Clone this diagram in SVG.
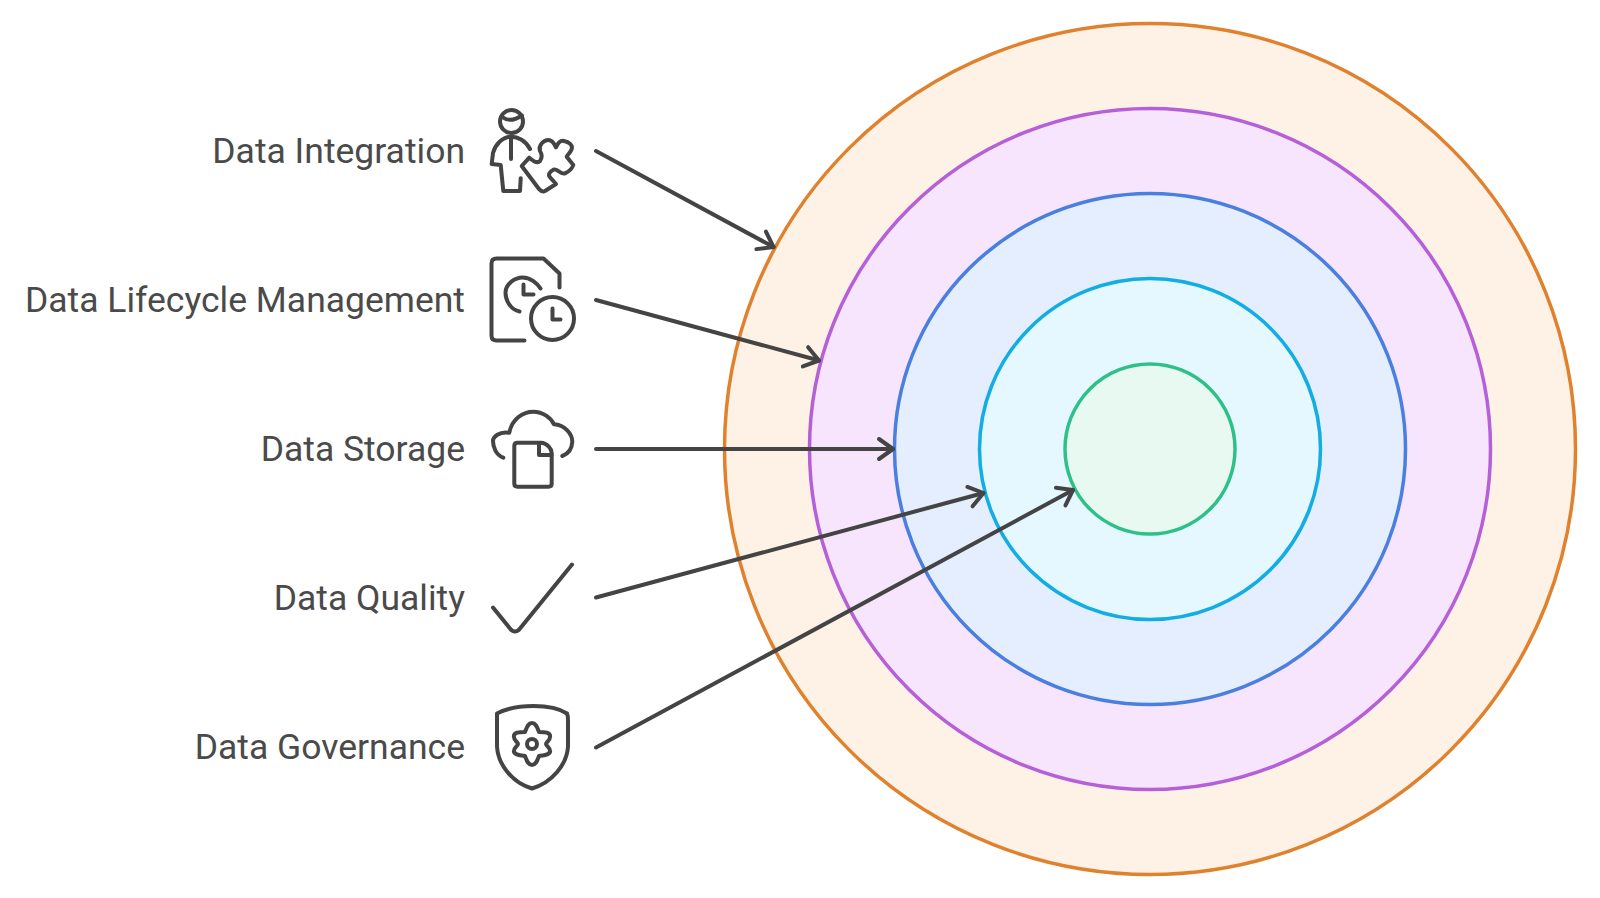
<svg xmlns="http://www.w3.org/2000/svg" width="1600" height="898" viewBox="0 0 1600 898">
<style>
.l{font-family:Roboto,"Liberation Sans",sans-serif;font-size:35.500px;fill:#4a4a4a;text-anchor:end}
.r{stroke-width:3.5}
.i{fill:none;stroke:#444;stroke-width:4;stroke-linecap:round;stroke-linejoin:round}
.c{fill:none;stroke:#444;stroke-width:4;stroke-linecap:round;stroke-linejoin:round}
</style>
<defs>
<marker id="a" markerUnits="userSpaceOnUse" markerWidth="30" markerHeight="30" refX="20" refY="15" orient="auto" overflow="visible">
<path d="M6 5L20 15L6 25" fill="none" stroke="#444" stroke-width="4" stroke-linecap="round" stroke-linejoin="round"/>
</marker>
</defs>
<rect width="1600" height="898" fill="#fff"/>
<g id="rings">
<circle id="ring-1" class="r" cx="1150" cy="449" r="425.500" fill="#fef1e6" stroke="#e0812e"/>
<circle id="ring-2" class="r" cx="1150" cy="449" r="340.500" fill="#f6e5fc" stroke="#b55fd8"/>
<circle id="ring-3" class="r" cx="1150" cy="449" r="255.500" fill="#e5eefe" stroke="#4a7fe0"/>
<circle id="ring-4" class="r" cx="1150" cy="449" r="170.500" fill="#e5f8ff" stroke="#12ade2"/>
<circle id="ring-5" class="r" cx="1150" cy="449" r="85" fill="#e8f9f1" stroke="#2fc08a"/>
</g>
<g id="connectors">
<path class="c" marker-end="url(#a)" d="M596 151L773.500 247"/>
<path class="c" marker-end="url(#a)" d="M596 300L819 360.500"/>
<path class="c" marker-end="url(#a)" d="M596 449H893"/>
<path class="c" marker-end="url(#a)" d="M596 597.500L983.500 493"/>
<path class="c" marker-end="url(#a)" d="M596 747.500L1073 490"/>
</g>
<g id="node-integration">
<text class="l" x="465" y="163">Data Integration</text>
<g class="i">
<circle cx="511.500" cy="121.500" r="11.500"/>
<path d="M503 117.500C509 122 515 120 522 115.500"/>
<path d="M511 137V159"/>
<path d="M530 149C526 141 518 136.500 510.700 136.700C502 137 495 145 493 153L491.700 164L500.700 165L503.300 191H520L520.700 178.300"/>
<path d="M521.700 166L529.300 157.700C533 161 537 164 540 161C542 158 542 154 540 151C538 145 544 140 548.300 140C552 140 554 143 556 147.300C558 143 561 140 564 141C569 142 573 145 571.700 149C571 152 568 154 566.700 156.700L573.300 165C572 169 568 172 565 173.300C561 175 556 167 553 170C549 172 548 175 550 177.300L556 184L545 191C543 192.500 541 191 539 189Z"/>
</g>
</g>
<g id="node-lifecycle" transform="translate(0.500 0.500)">
<text class="l" x="464.500" y="311">Data Lifecycle Management</text>
<g class="i">
<path d="M524 340H496Q491 340 491 335V263Q491 258 496 258H543L559 273V287"/>
<path d="M519 311C510 309 505 300 505 292C505 283 515 277 522 277C530 277 537 283 540 288"/>
<path d="M523 284V294H533"/>
<circle cx="552" cy="318" r="21.500"/>
<path d="M552 308V319H560"/>
</g>
</g>
<g id="node-storage">
<text class="l" x="465" y="460.500">Data Storage</text>
<g class="i">
<path d="M503.300 457.700C496 455 493 447 493 441C493 437 499 431 509.300 432.700C512 419 523 411.700 533.300 411.700C543 411.700 551 418 554 424.300C565 425 572.300 434 572.300 441.700C572 449 568 454 562.300 456"/>
<path d="M517.500 442.700H541C547 443 551.700 449 551.700 453V483.500Q551.700 486.700 548.500 486.700H517.500Q514.300 486.700 514.300 483.500V446Q514.300 442.700 517.500 442.700Z"/>
<path d="M539 443V455H551.500"/>
</g>
</g>
<g id="node-quality">
<text class="l" x="465" y="609.500">Data Quality</text>
<path class="i" d="M493 607.500L510 628.500C513 632.500 517 632.500 520 628.500L572 564.500"/>
</g>
<g id="node-governance">
<text class="l" x="465" y="759">Data Governance</text>
<g class="i">
<path d="M497 713.500C516 703.500 552 703.500 567 713.500Q568 715.500 568 720.500V746.500C567 764.500 552 782.500 532 788.500C512 782.500 498 764.500 497 746.500V720.500Q497 715.500 497 713.500Z"/>
<circle cx="532" cy="744" r="5"/>
<path d="M532 723C536 723 537 727 539 732C544 732 551 732 550 737C550 741 546 742 546 744C546 746 551 748 550 752C548 756 543 755 539 756C537 761 536 765 532 765C528 765 527 761 525 756C521 755 516 756 514 752C513 748 518 746 518 744C518 742 514 741 514 737C513 732 520 732 525 732C527 727 528 723 532 723Z"/>
</g>
</g>
</svg>
